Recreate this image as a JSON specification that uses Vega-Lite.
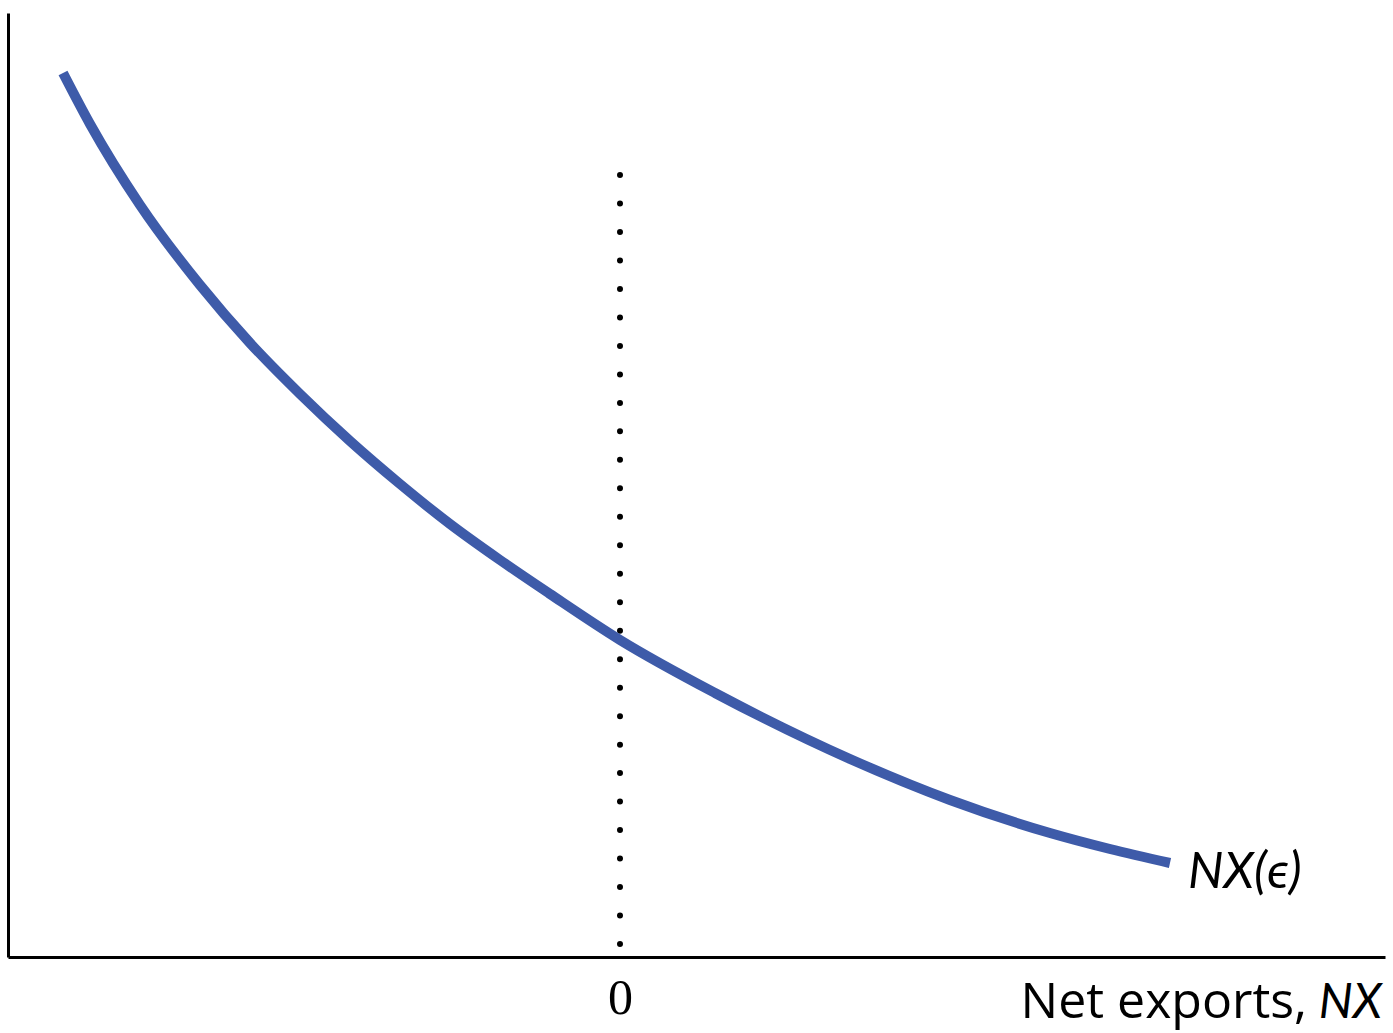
{
  "$schema": "https://vega.github.io/schema/vega-lite/v6.json",
  "width": 1377,
  "height": 944,
  "autosize": {"type": "none"},
  "padding": {"left": 8, "top": 13, "right": 8, "bottom": 76},
  "background": "white",
  "config": {"view": {"stroke": null}},
  "datasets": {
    "curve": [
      {"nx": -557, "e": 884},
      {"nx": -530, "e": 833},
      {"nx": -480, "e": 752},
      {"nx": -420, "e": 672},
      {"nx": -370, "e": 614},
      {"nx": -320, "e": 563},
      {"nx": -270, "e": 516},
      {"nx": -220, "e": 473},
      {"nx": -170, "e": 433},
      {"nx": -120, "e": 397},
      {"nx": -70, "e": 363},
      {"nx": 0, "e": 317},
      {"nx": 95, "e": 264},
      {"nx": 230, "e": 198},
      {"nx": 330, "e": 157},
      {"nx": 430, "e": 124},
      {"nx": 490, "e": 108},
      {"nx": 550, "e": 94}
    ],
    "zero": [{"nx": 0, "lo": 13, "hi": 782}],
    "labels": [
      {"nx": 568, "e": 69, "txt": "NX(ϵ)"}
    ],
    "xtitle": [
      {"nx": 687, "e": -61, "txt": "Net exports,"}
    ],
    "xtitleIt": [
      {"nx": 762, "e": -61, "txt": "NX"}
    ]
  },
  "layer": [
    {
      "data": {"name": "zero"},
      "mark": {"type": "rule", "color": "black", "strokeWidth": 6, "strokeDash": [0, 28.48], "strokeCap": "round"},
      "encoding": {
        "x": {"field": "nx", "type": "quantitative", "scale": {"domain": [-612, 765], "nice": false, "zero": false},
          "axis": {"values": [0], "ticks": false, "grid": false, "title": null, "domainColor": "black", "domainWidth": 3,
            "labelFont": "Liberation Serif", "labelFontSize": 50, "labelColor": "black", "labelPadding": 16}},
        "y": {"field": "lo", "type": "quantitative", "scale": {"domain": [0, 944], "nice": false, "zero": false},
          "axis": {"ticks": false, "grid": false, "labels": false, "title": null, "domainColor": "black", "domainWidth": 3}},
        "y2": {"field": "hi"}
      }
    },
    {
      "data": {"name": "curve"},
      "mark": {"type": "line", "color": "#3E5BA9", "strokeWidth": 10, "interpolate": "monotone", "strokeCap": "butt"},
      "encoding": {
        "x": {"field": "nx", "type": "quantitative"},
        "y": {"field": "e", "type": "quantitative"}
      }
    },
    {
      "data": {"name": "labels"},
      "mark": {"type": "text", "font": "Lato, DejaVu Sans", "fontSize": 50, "fontStyle": "italic", "align": "left", "baseline": "alphabetic", "color": "black", "clip": false},
      "encoding": {
        "x": {"field": "nx", "type": "quantitative"},
        "y": {"field": "e", "type": "quantitative"},
        "text": {"field": "txt"}
      }
    },
    {
      "data": {"name": "xtitle"},
      "mark": {"type": "text", "font": "Open Sans", "fontSize": 50, "align": "right", "baseline": "alphabetic", "color": "black", "clip": false},
      "encoding": {
        "x": {"field": "nx", "type": "quantitative"},
        "y": {"field": "e", "type": "quantitative"},
        "text": {"field": "txt"}
      }
    },
    {
      "data": {"name": "xtitleIt"},
      "mark": {"type": "text", "font": "Lato", "fontSize": 48, "fontStyle": "italic", "align": "right", "baseline": "alphabetic", "color": "black", "clip": false},
      "encoding": {
        "x": {"field": "nx", "type": "quantitative"},
        "y": {"field": "e", "type": "quantitative"},
        "text": {"field": "txt"}
      }
    }
  ]
}
